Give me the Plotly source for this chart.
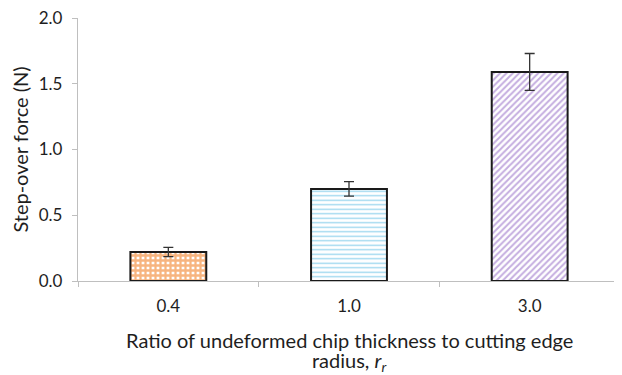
import plotly.graph_objects as go

categories = ["0.4", "1.0", "3.0"]
force = [0.22, 0.70, 1.59]
err = [0.035, 0.055, 0.14]
fill_colors = ["#f06a00", "#3aaede", "#8a5cc0"]
shapes = ["+", "-", "/"]
y_ticks = [0.0, 0.5, 1.0, 1.5, 2.0]
x_title_lines = ["Ratio of undeformed chip thickness to cutting edge",
                 "radius, <i>r<sub>r</sub></i>"]
y_title = "Step-over force (N)"

fig = go.Figure()
for i, c in enumerate(categories):
    fig.add_trace(go.Bar(
        x=[c], y=[force[i]],
        width=0.42,
        marker=dict(
            color="white",
            line=dict(color="#1a1a1a", width=2),
            pattern=dict(
                shape=shapes[i],
                fgcolor=fill_colors[i],
                bgcolor="white",
                size=[5, 4.5, 4.5][i],
                solidity=[0.7, 0.3, 0.45][i],
                fillmode="overlay",
            ),
        ),
        error_y=dict(type="data", array=[err[i]], visible=True,
                     color="#333333", thickness=1.3, width=5),
        showlegend=False,
    ))

font = "Lato, 'Open Sans', sans-serif"
fig.update_layout(
    width=614, height=367,
    margin=dict(l=70, r=2, t=10, b=94),
    paper_bgcolor="white", plot_bgcolor="white",
    font=dict(family=font, color="#1e1e1e"),
    xaxis=dict(
        type="category",
        showline=True, linecolor="#bfbfbf", linewidth=1.3,
        ticks="outside", tickson="boundaries", ticklen=5, tickcolor="#bfbfbf",
        tickfont=dict(size=17),
        ticklabelstandoff=9,
        title=dict(text=" ", font=dict(size=2), standoff=0),
        automargin=False,
        showgrid=False,
    ),
    yaxis=dict(
        range=[0, 2.0],
        tickvals=y_ticks, ticktext=[f"{v:.1f}" for v in y_ticks],
        showline=True, linecolor="#bfbfbf", linewidth=1.3,
        ticks="outside", ticklen=5, tickcolor="#bfbfbf",
        tickfont=dict(size=17),
        ticklabelstandoff=6,
        ticklabeloverflow="allow",
        title=dict(text=y_title, font=dict(size=20), standoff=10),
        automargin=False,
        showgrid=False, zeroline=False,
    ),
)
fig.add_annotation(text=x_title_lines[0], xref="paper", yref="paper", x=0.5, y=0,
                   yanchor="middle", yshift=-59, showarrow=False, font=dict(size=20))
fig.add_annotation(text=x_title_lines[1], xref="paper", yref="paper", x=0.5, y=0,
                   yanchor="middle", yshift=-80, showarrow=False, font=dict(size=20))

fig.write_html("out.html")
